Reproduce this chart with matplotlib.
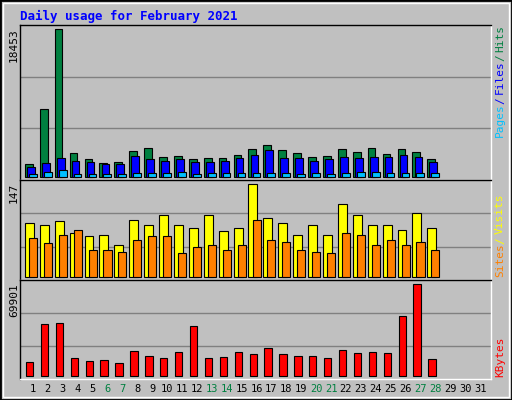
import matplotlib.pyplot as plt
from matplotlib.patches import Rectangle
import numpy as np

days = list(range(1, 32))
weekend = [6, 7, 13, 14, 20, 21, 27, 28]

hits = [1545, 8433, 18453, 2922, 2171, 1670, 1795, 3173, 3549, 2421, 2547, 2171, 2296, 2296,
        2672, 3423, 3924, 3298, 2922, 2421, 2547, 3423, 3048, 3549, 2797, 3423, 3048, 2171]
files = [1169, 1670, 2296, 1920, 1795, 1545, 1545, 2547, 2171, 1920, 2171, 1795, 1795, 1920,
         2296, 2672, 3298, 2296, 2296, 1920, 2171, 2421, 2296, 2421, 2421, 2672, 2421, 1795]
pages = [292, 543, 793, 292, 292, 292, 292, 418, 418, 418, 543, 292, 418, 418,
         418, 418, 418, 418, 292, 418, 292, 418, 543, 543, 418, 418, 418, 418]
visits = [86, 83, 88, 69, 64, 67, 51, 91, 82, 99, 83, 78, 98, 72,
          78, 147, 94, 85, 66, 83, 66, 115, 98, 83, 82, 75, 102, 78]
sites = [62, 53, 67, 74, 42, 42, 39, 59, 64, 64, 37, 48, 50, 42,
         51, 90, 58, 56, 42, 40, 37, 70, 66, 51, 59, 50, 56, 42]
kbytes = [10204, 39286, 40051, 13265, 10969, 11735, 9439, 18622, 14796, 13265, 17857, 37755, 13265, 14031,
          17857, 16327, 20918, 16327, 14796, 14796, 13265, 19388, 17092, 17857, 17092, 45408, 69901, 12500]

BG = "#C0C0C0"
W, H = 512, 400
fig = plt.figure(figsize=(5.12, 4.0), dpi=100, facecolor=BG)
mono = "DejaVu Sans Mono"


def px_axes(x0, y0, x1, y1):
    # pixel box (top-left origin) -> axes
    ax = fig.add_axes([x0 / W, 1 - y1 / H, (x1 - x0) / W, (y1 - y0) / H])
    ax.set_facecolor(BG)
    ax.set_xlim(0.13, 31.73)
    ax.set_xticks([])
    ax.set_yticks([])
    for s in ax.spines.values():
        s.set_linewidth(1)
    ax.spines["top"].set_color("black")
    ax.spines["left"].set_color("black")
    ax.spines["right"].set_color("white")
    ax.spines["bottom"].set_color("white")
    return ax


def grid(ax):
    lo, hi = ax.get_ylim()
    for f in (1 / 3, 2 / 3):
        ax.axhline(lo + (hi - lo) * f, color="#808080", lw=1, zorder=0)


def bars(ax, offset, width, vals, color):
    x = np.array(days[:len(vals)]) + offset
    ax.bar(x, vals, width=width, align="edge", color=color, edgecolor="black", lw=0.8, zorder=2)


# top panel: hits / files / pages
ax1 = px_axes(20, 25, 491, 180)
ax1.set_ylim(-413, 18991)
grid(ax1)
bars(ax1, -0.54, 0.52, hits, "#008040")
bars(ax1, -0.40, 0.52, files, "#0000FF")
bars(ax1, -0.27, 0.52, pages, "#00C0FF")

# middle panel: visits / sites
ax2 = px_axes(20, 180, 491, 280)
ax2.set_ylim(-5.3, 154)
grid(ax2)
bars(ax2, -0.54, 0.6, visits, "#FFFF00")
bars(ax2, -0.27, 0.54, sites, "#FF8000")

# bottom panel: kbytes
ax3 = px_axes(20, 280, 491, 379)
ax3.set_ylim(-2526, 73268)
grid(ax3)
bars(ax3, -0.47, 0.49, kbytes, "#FF0000")

# title
fig.text(20 / W, 1 - 16 / H, "Daily usage for February 2021", color="#0000FF",
         family=mono, weight="bold", fontsize=9, va="center")

# max labels
for y, lab in [(28, "18453"), (183, "147"), (283, "69901")]:
    fig.text(14 / W, 1 - y / H, lab, rotation=90, family=mono, fontsize=8,
             ha="center", va="top")

# right legends (reading bottom to top)
def legend(y_bottom, parts):
    y = y_bottom
    for txt, col in parts:
        fig.text(500 / W, 1 - y / H, txt, rotation=90, family=mono, fontsize=8,
                 color=col, ha="center", va="bottom")
        y -= len(txt) * 6.1 + 3

legend(137, [("Pages", "#00C0FF"), ("/", "#0000FF"), ("Files", "#0000FF"), ("/", "#008040"), ("Hits", "#008040")])
legend(277, [("Sites", "#FF8000"), ("/", "#FFFF00"), ("Visits", "#FFFF00")])
legend(377, [("KBytes", "#FF0000")])

# day labels
for d in days:
    x = 20 + (d - 0.13) / (31.73 - 0.13) * 471
    fig.text(x / W, 1 - 389 / H, str(d), family=mono, fontsize=7.5, ha="center", va="center",
             color="#008040" if d in weekend else "black")

# frame bevel
fig.patches.append(Rectangle((0, 0), 1, 1, transform=fig.transFigure, fill=False,
                             edgecolor="black", lw=2))
fig.patches.append(Rectangle((3 / W, 3 / H), 1 - 6 / W, 1 - 6 / H, transform=fig.transFigure,
                             fill=False, edgecolor="white", lw=1))

fig.savefig("out.png", dpi=100, facecolor=BG)
